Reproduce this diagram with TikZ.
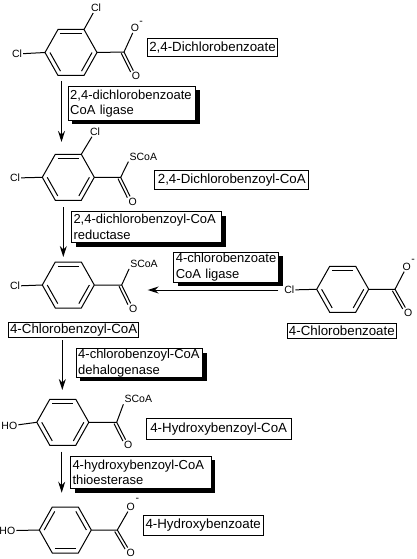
\documentclass[tikz,border=0pt]{standalone}
\usepackage{fontspec}
\setmainfont{Liberation Sans}
\usetikzlibrary{arrows.meta, calc, shadows}

% ring around #2,#3, named by #1
\newcommand{\benzring}[3]{%
  \coordinate (#1c) at (#2,#3);
  \foreach \pt/\dx/\dy in {w/-26/0, nw/-13/-23, ne/13/-23, e/26/0, se/13/23, sw/-13/23}
    \coordinate (#1\pt) at (#2+\dx,#3+\dy);
  \draw [bond] (#1w) -- (#1nw) -- (#1ne) -- (#1e) -- (#1se) -- (#1sw) -- cycle;
}
\newcommand{\innerbond}[3]{\draw [bond] ($(#1#2)!.19!(#1c)$) -- ($(#1#3)!.19!(#1c)$);}
\newcommand{\ketone}[2]{%
  \draw [bond, shorten >=6pt] (#1) -- (#2.center);
  \draw [bond, shorten >=6pt] ($(#1)!3pt!-90:(#2.center)$) -- ($(#2.center)!3pt!90:(#1)$);
}

\begin{document}
\begin{tikzpicture}[
    x=1pt, y=-1pt,
    bond/.style={draw, line width=1pt},
    atom/.style={font=\fontsize{10.5}{12}\selectfont, inner sep=1pt},
    compound/.style={draw, fill=white, line width=1pt, inner sep=0pt, anchor=west, font=\fontsize{13.3}{15}\selectfont},
    enzyme/.style={draw, fill=white, line width=1pt, inner xsep=2pt, inner ysep=0pt, anchor=north west, align=left,
        font=\fontsize{13}{15.5}\selectfont,
        drop shadow={shadow xshift=4pt, shadow yshift=-4pt, fill=black, opacity=1}},
    line/.style={draw, line width=1pt, -{Stealth[length=11pt, width=7pt]}}
]
\useasboundingbox (0,0) rectangle (416,559);

% 2,4-dichlorobenzoate
\benzring{ra}{71}{52.5}
\innerbond{ra}{nw}{ne} \innerbond{ra}{w}{sw} \innerbond{ra}{se}{e}
\node [atom] (cla) at (96,8) {Cl};
\node [atom] (clb) at (17,54) {Cl};
\coordinate (ca) at (124,52);
\node [atom] (oa) at (135,28) {O};
\node [atom] (mina) at (141,23) {-};
\node [atom] (ob) at (136,76) {O};
\draw [bond] (rane) -- (cla);
\draw [bond] (raw) -- (clb);
\draw [bond] (rae) -- (ca) -- (oa);
\ketone{ca}{ob}
\node [compound, minimum width=130pt, minimum height=18pt] (dcb) at (147,48) {2,4-Dichlorobenzoate};

% 2,4-dichlorobenzoyl-CoA
\benzring{rb}{68.3}{177.3}
\innerbond{rb}{nw}{ne} \innerbond{rb}{w}{sw} \innerbond{rb}{se}{e}
\node [atom] (clc) at (95,131.7) {Cl};
\node [atom] (cld) at (15,178) {Cl};
\coordinate (cb) at (120.7,177.3);
\node [atom] (sa) at (143.3,156.7) {SCoA};
\node [atom] (oc) at (132.7,201.7) {O};
\draw [bond] (rbne) -- (clc);
\draw [bond] (rbw) -- (cld);
\draw [bond] (rbe) -- (cb) -- (sa.south west);
\ketone{cb}{oc}
\node [compound, minimum width=154pt, minimum height=18.7pt] (dcbc) at (154.3,180.3) {2,4-Dichlorobenzoyl-CoA};

% 4-chlorobenzoyl-CoA
\benzring{rc}{68.3}{285}
\innerbond{rc}{nw}{ne} \innerbond{rc}{w}{sw} \innerbond{rc}{se}{e}
\node [atom] (cle) at (15,286) {Cl};
\coordinate (cc) at (121.7,285);
\node [atom] (sb) at (144,264) {SCoA};
\node [atom] (od) at (133.3,308.7) {O};
\draw [bond] (rcw) -- (cle);
\draw [bond] (rce) -- (cc) -- (sb.south west);
\ketone{cc}{od}
\node [compound, minimum width=130.3pt, minimum height=15pt] (cbc) at (8,329.8) {4-Chlorobenzoyl-CoA};

% 4-chlorobenzoate
\benzring{rd}{342.7}{289.3}
\innerbond{rd}{nw}{ne} \innerbond{rd}{w}{sw} \innerbond{rd}{se}{e}
\node [atom] (clf) at (289.3,290) {Cl};
\coordinate (cd) at (395,289.3);
\node [atom] (oe) at (406.7,266.7) {O};
\node [atom] (minb) at (413,260.7) {-};
\node [atom] (of) at (408.3,312.7) {O};
\draw [bond] (rdw) -- (clf);
\draw [bond] (rde) -- (cd) -- (oe);
\ketone{cd}{of}
\node [compound, minimum width=109.3pt, minimum height=15.4pt] (cb) at (286.7,331) {4-Chlorobenzoate};

% 4-hydroxybenzoyl-CoA
\benzring{re}{62.8}{422.3}
\innerbond{re}{nw}{ne} \innerbond{re}{w}{sw} \innerbond{re}{se}{e}
\node [atom] (hoa) at (9.3,426) {HO};
\coordinate (ce) at (116.7,422.3);
\node [atom] (sc) at (138.3,399.3) {SCoA};
\node [atom] (og) at (128.3,445) {O};
\draw [bond] (rew) -- (hoa);
\draw [bond] (ree) -- (ce) -- (sc.south west);
\ketone{ce}{og}
\node [compound, minimum width=145pt, minimum height=21pt] (hbc) at (145.7,428.8) {4-Hydroxybenzoyl-CoA};

% 4-hydroxybenzoate
\benzring{rf}{65.3}{530}
\innerbond{rf}{nw}{w} \innerbond{rf}{ne}{e} \innerbond{rf}{sw}{se}
\node [atom] (hob) at (7.3,530.7) {HO};
\coordinate (cf) at (117.3,530);
\node [atom] (oh) at (130.7,506.7) {O};
\node [atom] (minc) at (137.3,500) {-};
\node [atom] (oi) at (130.7,552.7) {O};
\draw [bond] (rfw) -- (hob);
\draw [bond] (rfe) -- (cf) -- (oh);
\ketone{cf}{oi}
\node [compound, minimum width=120pt, minimum height=19.6pt] (hb) at (142.7,525.5) {4-Hydroxybenzoate};

% enzymes
\node [enzyme, text width=123.3pt, minimum height=34pt] (liga) at (67.7,86) {2,4-dichlorobenzoate\\CoA ligase};
\node [enzyme, text width=146pt, minimum height=31pt] (redu) at (71,211) {2,4-dichlorobenzoyl-CoA\\reductase};
\node [enzyme, text width=101pt, minimum height=30pt] (ligb) at (173.3,251.7) {4-chlorobenzoate\\CoA ligase};
\node [enzyme, text width=122.6pt, minimum height=28.4pt] (deha) at (75.7,348.3) {4-chlorobenzoyl-CoA\\dehalogenase};
\node [enzyme, text width=136.7pt, minimum height=32.6pt] (thio) at (70,455.7) {4-hydroxybenzoyl-CoA\\thioesterase};

% arrows
\coordinate (aa) at (61.5,81);   \coordinate (ab) at (61.5,142);
\coordinate (ba) at (63.3,207);  \coordinate (bb) at (63.3,257);
\coordinate (ca1) at (278.3,290); \coordinate (cb1) at (147.7,290);
\coordinate (da) at (62.3,340);  \coordinate (db) at (62.3,390);
\coordinate (ea) at (61.7,451.7); \coordinate (eb) at (61.7,492.7);
\path [line] (aa) -- (ab);
\path [line] (ba) -- (bb);
\path [line] (ca1) -- (cb1);
\path [line] (da) -- (db);
\path [line] (ea) -- (eb);
\end{tikzpicture}
\end{document}
